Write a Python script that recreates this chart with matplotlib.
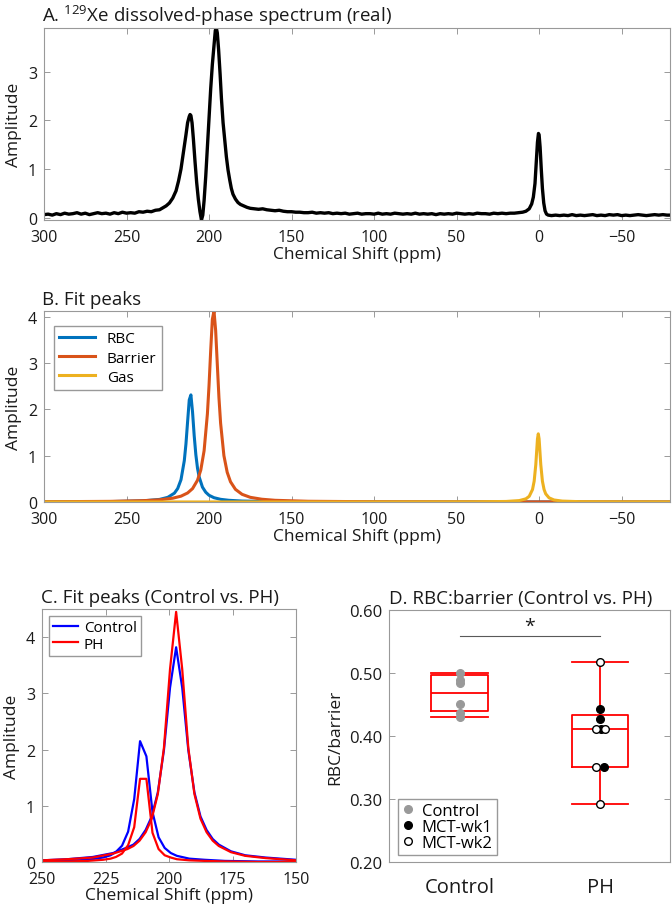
import matplotlib

matplotlib.use("Agg")

import matplotlib.pyplot as plt
from matplotlib.lines import Line2D
from matplotlib.ticker import FormatStrFormatter

# ---------------------------------------------------------------- panel A data
# real part of the dissolved-phase spectrum in pieces
base_left_x = [300, 297.5, 295, 292.5, 290, 287.5, 285, 282.5, 280, 277.5,
               275, 272.5, 270, 267.5, 265, 262.5, 260, 257.5, 255, 252.5,
               250, 247.5, 245, 242.5, 240, 237.5, 235, 232.5, 230]
base_left_y = [0.06, 0.07, 0.05, 0.08, 0.06, 0.09, 0.07, 0.08, 0.10, 0.07,
               0.09, 0.06, 0.08, 0.10, 0.08, 0.09, 0.07, 0.10, 0.08, 0.11,
               0.09, 0.10, 0.09, 0.12, 0.11, 0.13, 0.12, 0.15, 0.16]

dissolved_x = [228, 226, 224, 222, 220, 218.5, 217, 215.5, 214, 213,
               212, 211.5, 211, 210.3, 209.5, 208.5, 207.5, 206.5, 205.5, 204.6,
               203.8, 203, 202, 201, 200, 199, 198, 197, 196.2, 195.6,
               195, 194.2, 193.3, 192.5, 191.5, 190.5, 189.5, 188.5, 187.5, 186.5,
               185.5, 184, 182.5, 181, 179, 177, 175, 172.5, 170, 167.5,
               165, 162.5, 160, 157.5, 155, 152.5, 150]
dissolved_y = [0.20, 0.24, 0.30, 0.40, 0.55, 0.75, 1.00, 1.35, 1.70, 1.95,
               2.08, 2.12, 2.10, 1.95, 1.62, 1.15, 0.72, 0.38, 0.12, -0.05,
               0.05, 0.35, 0.85, 1.45, 2.05, 2.65, 3.15, 3.55, 3.85, 3.90,
               3.80, 3.45, 2.95, 2.45, 1.95, 1.60, 1.25, 0.98, 0.78, 0.60,
               0.48, 0.38, 0.31, 0.27, 0.24, 0.21, 0.19, 0.18, 0.17, 0.18,
               0.16, 0.15, 0.14, 0.15, 0.13, 0.12, 0.12]

base_mid_x = [147.5, 145, 142.5, 140, 137.5, 135, 132.5, 130, 127.5, 125,
              122.5, 120, 117.5, 115, 112.5, 110, 107.5, 105, 102.5, 100,
              97.5, 95, 92.5, 90, 87.5, 85, 82.5, 80, 77.5, 75,
              72.5, 70, 67.5, 65, 62.5, 60, 57.5, 55, 52.5, 50,
              47.5, 45, 42.5, 40, 37.5, 35, 32.5, 30, 27.5, 25,
              22.5, 20, 17.5, 15, 12.5]
base_mid_y = [0.11, 0.11, 0.10, 0.10, 0.11, 0.09, 0.10, 0.09, 0.10, 0.08,
              0.09, 0.08, 0.09, 0.07, 0.08, 0.09, 0.07, 0.08, 0.08, 0.07,
              0.09, 0.07, 0.08, 0.07, 0.09, 0.08, 0.07, 0.08, 0.07, 0.09,
              0.07, 0.08, 0.07, 0.08, 0.06, 0.08, 0.07, 0.08, 0.07, 0.09,
              0.08, 0.07, 0.08, 0.07, 0.09, 0.08, 0.08, 0.07, 0.09, 0.08,
              0.09, 0.08, 0.09, 0.09, 0.10]

gas_peak_x = [10, 8, 6, 4.5, 3.5, 2.5, 1.7, 1, 0.4, 0,
              -0.6, -1.3, -2, -2.8, -3.6, -4.5, -5.5]
gas_peak_y = [0.11, 0.13, 0.18, 0.28, 0.42, 0.70, 1.15, 1.55, 1.73, 1.70,
              1.45, 1.00, 0.60, 0.30, 0.14, 0.07, 0.05]

base_right_x = [-7.5, -10, -12.5, -15, -17.5, -20, -22.5, -25, -27.5, -30,
                -32.5, -35, -37.5, -40, -42.5, -45, -47.5, -50, -52.5, -55,
                -57.5, -60, -62.5, -65, -67.5, -70, -72.5, -75, -77.5, -79.3]
base_right_y = [0.04, 0.05, 0.04, 0.05, 0.04, 0.06, 0.04, 0.05, 0.04, 0.05,
                0.06, 0.04, 0.05, 0.04, 0.06, 0.05, 0.06, 0.04, 0.05, 0.04,
                0.05, 0.06, 0.05, 0.04, 0.05, 0.06, 0.05, 0.06, 0.05, 0.05]

# ---------------------------------------------------------------- panel B data
rbc_x = [300, 260, 240, 230, 225, 221, 219, 217, 215, 214, 213, 212, 211, 210, 209,
         208, 207, 206, 204, 202, 200, 197, 193, 188, 180, 160, 120, 60, 0, -79.3]
rbc_y = [0.003, 0.008, 0.024, 0.055, 0.10, 0.19, 0.29, 0.48, 0.89, 1.25, 1.73, 2.20,
         2.31, 1.94, 1.43, 1.02, 0.73, 0.54, 0.32, 0.21, 0.144, 0.092, 0.057, 0.036,
         0.020, 0.007, 0.002, 0.001, 0.0, 0.0]

barrier_x = [300, 260, 240, 230, 222, 217, 213, 210, 207, 205, 203, 201, 200, 199, 198,
             197, 196, 195, 194, 193, 191, 189, 187, 184, 180, 175, 168, 160, 140, 100,
             50, 0, -79.3]
barrier_y = [0.005, 0.013, 0.028, 0.047, 0.081, 0.125, 0.194, 0.288, 0.468, 0.69, 1.105,
             1.90, 2.52, 3.27, 3.94, 4.12, 3.70, 2.97, 2.25, 1.70, 1.00, 0.64, 0.436,
             0.272, 0.165, 0.100, 0.059, 0.036, 0.015, 0.005, 0.002, 0.001, 0.0]

gas_x = [300, 100, 40, 20, 12, 8, 6, 4, 3, 2, 1, 0.5, 0, -1, -2, -3, -4, -6, -9, -14,
         -25, -50, -79.3]
gas_y = [0.0, 0.0004, 0.003, 0.011, 0.030, 0.068, 0.122, 0.269, 0.449, 0.81, 1.36, 1.47,
         1.36, 0.81, 0.449, 0.269, 0.175, 0.090, 0.043, 0.019, 0.006, 0.002, 0.001]

# ---------------------------------------------------------------- panel C data
rbc_c_x = [250, 240, 232, 226, 223, 220.9, 218.5, 216.1, 213.7, 211.4, 208.9, 206.5,
           204.1, 201.7, 199.3, 196.9, 192, 186, 178, 165, 150]
control_rbc = [0.01, 0.02, 0.04, 0.08, 0.12, 0.18, 0.29, 0.54, 1.12, 2.15, 1.88, 0.89,
               0.44, 0.25, 0.16, 0.11, 0.06, 0.04, 0.02, 0.01, 0.01]
ph_rbc = [0.01, 0.01, 0.02, 0.04, 0.06, 0.09, 0.15, 0.30, 0.62, 1.48, 1.48, 0.52, 0.23,
          0.12, 0.08, 0.05, 0.03, 0.02, 0.01, 0.0, 0.0]

bar_c_x = [250, 240, 230, 222, 216.4, 214, 211.6, 209.2, 206.8, 204.4, 202, 199.6,
           197.2, 194.8, 192.4, 190, 187.6, 185.2, 182.8, 180.4, 175.6, 170, 162, 150]
control_barrier = [0.03, 0.05, 0.09, 0.16, 0.26, 0.31, 0.41, 0.57, 0.81, 1.24, 1.99,
                   3.10, 3.82, 3.10, 1.99, 1.24, 0.81, 0.57, 0.41, 0.31, 0.19, 0.12,
                   0.08, 0.04]
ph_barrier = [0.03, 0.05, 0.08, 0.15, 0.23, 0.285, 0.38, 0.53, 0.77, 1.21, 2.03, 3.43,
              4.45, 3.43, 2.03, 1.21, 0.77, 0.53, 0.38, 0.285, 0.175, 0.11, 0.07, 0.03]

# ---------------------------------------------------------------- panel D data
groups = ["Control", "PH"]
# whisker low, Q1, median, Q3, whisker high
control_box = [0.431, 0.440, 0.468, 0.497, 0.501]
ph_box = [0.293, 0.351, 0.411, 0.434, 0.518]

control_pts = [0.500, 0.490, 0.484, 0.452, 0.437, 0.431]
wk1_pts = [0.443, 0.427, 0.411, 0.351]
wk1_dx = [0.0, 0.0, 0.005, 0.031]
wk2_pts = [0.518, 0.411, 0.411, 0.351, 0.293]
wk2_dx = [0.0, -0.031, 0.036, -0.031, 0.0]

# ---------------------------------------------------------------- style
plt.rcParams["font.family"] = ["Open Sans", "DejaVu Sans"]
plt.rcParams["mathtext.fontset"] = "custom"
plt.rcParams["mathtext.rm"] = "Open Sans"
plt.rcParams.update({
    "axes.edgecolor": "0.6",
    "axes.linewidth": 0.8,
    "xtick.direction": "in",
    "ytick.direction": "in",
    "xtick.top": True,
    "ytick.right": True,
    "xtick.major.size": 4,
    "ytick.major.size": 4,
    "xtick.major.width": 0.7,
    "ytick.major.width": 0.7,
    "xtick.major.pad": 6.5,
    "ytick.major.pad": 5,
    "xtick.color": "0.6",
    "ytick.color": "0.6",
    "xtick.labelcolor": "0.1",
    "ytick.labelcolor": "0.1",
    "xtick.labelsize": 11.5,
    "ytick.labelsize": 11.5,
    "axes.labelsize": 12.5,
    "axes.labelcolor": "0.1",
    "legend.fancybox": False,
    "legend.edgecolor": "0.6",
    "legend.framealpha": 1.0,
})

MATLAB_BLUE = "#0072BD"
MATLAB_ORANGE = "#D95319"
MATLAB_YELLOW = "#EDB120"


def style_title(ax, text):
    ax.set_title(text, loc="left", fontsize=13.5, color="0.1", pad=5, x=-0.003)


shift_a = base_left_x + dissolved_x + base_mid_x + gas_peak_x + base_right_x
amp_a = base_left_y + dissolved_y + base_mid_y + gas_peak_y + base_right_y

fig = plt.figure(figsize=(6.72, 9.12), dpi=100)
ax_a = fig.add_axes([0.0655, 0.7577, 0.9315, 0.2105])
ax_b = fig.add_axes([0.0655, 0.4485, 0.9315, 0.2094])
ax_c = fig.add_axes([0.0625, 0.0537, 0.378, 0.2774])
ax_d = fig.add_axes([0.5794, 0.0537, 0.418, 0.2759])

# A
ax_a.plot(shift_a, amp_a, color="black", lw=2.4)
ax_a.set_xlim(300, -79.3)
ax_a.set_ylim(-0.05, 3.9)
ax_a.set_xticks([300, 250, 200, 150, 100, 50, 0, -50])
ax_a.set_yticks([0, 1, 2, 3])
ax_a.set_xlabel("Chemical Shift (ppm)", labelpad=1)
ax_a.set_ylabel("Amplitude", labelpad=4)
style_title(ax_a, r"A. $\mathregular{^{129}}$Xe dissolved-phase spectrum (real)")

# B
ax_b.plot(rbc_x, rbc_y, color=MATLAB_BLUE, lw=2.2, label="RBC")
ax_b.plot(barrier_x, barrier_y, color=MATLAB_ORANGE, lw=2.2, label="Barrier")
ax_b.plot(gas_x, gas_y, color=MATLAB_YELLOW, lw=2.2, label="Gas")
ax_b.set_xlim(300, -79.3)
ax_b.set_ylim(0, 4.12)
ax_b.set_xticks([300, 250, 200, 150, 100, 50, 0, -50])
ax_b.set_yticks([0, 1, 2, 3, 4])
ax_b.set_xlabel("Chemical Shift (ppm)", labelpad=1)
ax_b.set_ylabel("Amplitude", labelpad=4)
ax_b.legend(loc="upper left", bbox_to_anchor=(0.016, 0.922), borderaxespad=0,
            fontsize=11, handlelength=2.3, labelspacing=0.28, borderpad=0.35)
style_title(ax_b, "B. Fit peaks")

# C
ax_c.plot(rbc_c_x, control_rbc, color="blue", lw=1.6, label="Control")
ax_c.plot(bar_c_x, control_barrier, color="blue", lw=1.6)
ax_c.plot(rbc_c_x, ph_rbc, color="red", lw=1.6, label="PH")
ax_c.plot(bar_c_x, ph_barrier, color="red", lw=1.6)
ax_c.set_xlim(250, 150)
ax_c.set_ylim(0, 4.5)
ax_c.set_xticks([250, 225, 200, 175, 150])
ax_c.set_yticks([0, 1, 2, 3, 4])
ax_c.set_xlabel("Chemical Shift (ppm)", labelpad=0)
ax_c.set_ylabel("Amplitude", labelpad=4)
ax_c.legend(loc="upper left", bbox_to_anchor=(0.026, 0.974), borderaxespad=0,
            fontsize=11, handlelength=1.6, labelspacing=0.1, borderpad=0.3,
            handletextpad=0.4)
style_title(ax_c, "C. Fit peaks (Control vs. PH)")

# D
box_stats = []
for name, vals in zip(groups, [control_box, ph_box]):
    box_stats.append({"label": name, "whislo": vals[0], "q1": vals[1], "med": vals[2],
                      "q3": vals[3], "whishi": vals[4], "fliers": []})
red = dict(color="red", lw=1.3)
ax_d.bxp(box_stats, positions=[1, 2], widths=0.4, capwidths=0.4, showfliers=False,
         boxprops=red, whiskerprops=red, capprops=red, medianprops=red)

ax_d.plot([1] * len(control_pts), control_pts, "o", color="0.6", ms=5.5, zorder=3)
ax_d.plot([2 + d for d in wk1_dx], wk1_pts, "o", color="black", ms=5.5, zorder=3)
ax_d.plot([2 + d for d in wk2_dx], wk2_pts, "o", mfc="white", mec="black", mew=1.0,
          ms=5.5, zorder=4)

ax_d.plot([1, 2], [0.559, 0.559], color="0.35", lw=0.8)
ax_d.text(1.5, 0.561, "*", ha="center", va="bottom", fontsize=14, color="0.1")

ax_d.set_xlim(0.5, 2.5)
ax_d.set_ylim(0.2, 0.6)
ax_d.set_yticks([0.2, 0.3, 0.4, 0.5, 0.6])
ax_d.yaxis.set_major_formatter(FormatStrFormatter("%.2f"))
ax_d.set_xticks([1, 2])
ax_d.set_xticklabels(groups)
ax_d.tick_params(axis="x", length=0, labelsize=14.5, pad=11, top=False)
ax_d.tick_params(axis="y", labelsize=12)
ax_d.set_ylabel("RBC/barrier", labelpad=4)

handles = [
    Line2D([], [], ls="", marker="o", color="0.6", ms=5.5),
    Line2D([], [], ls="", marker="o", color="black", ms=5.5),
    Line2D([], [], ls="", marker="o", mfc="white", mec="black", mew=1.0, ms=5.5),
]
ax_d.legend(handles, ["Control", "MCT-wk1", "MCT-wk2"], loc="lower left",
            bbox_to_anchor=(0.032, 0.028), borderaxespad=0, fontsize=12,
            handlelength=0.7, handletextpad=0.45, labelspacing=0.0, borderpad=0.25)
style_title(ax_d, "D. RBC:barrier (Control vs. PH)")

fig.savefig("out.png", dpi=100)
